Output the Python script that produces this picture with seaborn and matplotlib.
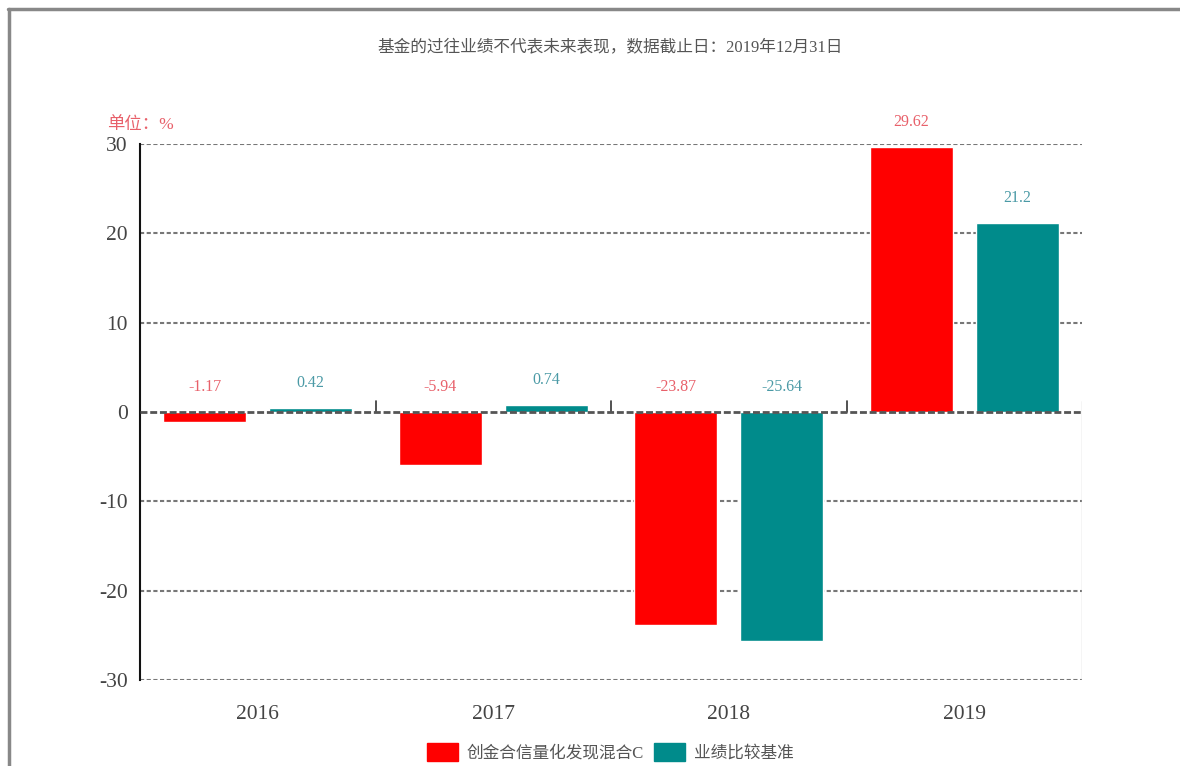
import pandas as pd
import numpy as np
import seaborn as sns
from matplotlib import pyplot as plt
from matplotlib.lines import Line2D
from matplotlib.patches import Patch

years = ["2016", "2017", "2018", "2019"]
fund_name = "创金合信量化发现混合C"
bench_name = "业绩比较基准"
fund_values = [-1.17, -5.94, -23.87, 29.62]
bench_values = [0.42, 0.74, -25.64, 21.2]
y_ticks = [-30, -20, -10, 0, 10, 20, 30]

title_text = "基金的过往业绩不代表未来表现，数据截止日：2019年12月31日"
unit_text = "单位：%"

red = "#ff0000"
teal = "#008b8b"
red_label = "#e8606a"
teal_label = "#4b9aa6"

df = pd.DataFrame({
    "year": years * 2,
    "value": fund_values + bench_values,
    "series": [fund_name] * len(years) + [bench_name] * len(years),
})

sns.set_style("white")
plt.rcParams['font.family'] = ['Liberation Serif', 'Noto Sans CJK SC', 'DejaVu Sans']
plt.rcParams['axes.unicode_minus'] = False

fig = plt.figure(figsize=(11.8, 7.66), dpi=100)
ax = fig.add_axes([140 / 1180, 1 - 680 / 766, (1082 - 140) / 1180, (680 - 144) / 766])

sns.barplot(data=df, x="year", y="value", hue="series",
            palette=[red, teal], width=0.9, gap=0.22, saturation=1,
            order=years, hue_order=[fund_name, bench_name], ax=ax)

ax.set_ylim(-30, 30)
ax.set_xlim(-0.5, len(years) - 0.5)
ax.set_yticks(y_ticks)
ax.set_xlabel("")
ax.set_ylabel("")
ax.get_legend().remove()

# grid lines
for t in y_ticks:
    if t == 0:
        continue
    ax.axhline(t, color="#777777", lw=1.5, ls=(0, (2, 1.2)), zorder=0)
ax.axhline(0, color="#555555", lw=2.0, ls=(0, (2.5, 1)), zorder=3)
for b in np.arange(0.5, len(years) - 0.5, 1.0):
    ax.axvline(b, ymin=0.5, ymax=0.52, color="#333333", lw=1.2)
ax.axvline(len(years) - 0.5, ymin=0.0, ymax=0.52, color="#cccccc", lw=1.0)

for side in ["top", "right", "bottom"]:
    ax.spines[side].set_visible(False)
ax.spines["left"].set_color("#111111")
ax.spines["left"].set_linewidth(1.5)

ax.tick_params(axis="y", length=0, labelsize=15.5, labelcolor="#444444", pad=9)
ax.tick_params(axis="x", length=0, labelsize=15.5, labelcolor="#444444", pad=18)

# value labels
for container, vals, col in zip(ax.containers, [fund_values, bench_values], [red_label, teal_label]):
    for bar, v in zip(container, vals):
        xc = bar.get_x() + bar.get_width() / 2
        ax.annotate(f"{v:g}", (xc, max(v, 0)), xytext=(0, 18), textcoords="offset points",
                    ha="center", va="center", fontsize=11.5, color=col)

fig.text(610 / 1180, 1 - 48 / 766, title_text, ha="center", va="center",
         fontsize=12, color="#555555")
fig.text(107 / 1180, 1 - 125 / 766, unit_text, ha="left", va="center",
         fontsize=12.5, color="#e8606a")

handles = [Patch(facecolor=red, edgecolor=red), Patch(facecolor=teal, edgecolor=teal)]
fig.legend(handles, [fund_name, bench_name], loc="center", bbox_to_anchor=(610 / 1180, 1 - 752 / 766),
           ncol=2, frameon=False, fontsize=12, handlelength=1.9, handleheight=1.3,
           columnspacing=0.6, handletextpad=0.5, labelcolor="#555555")

# outer frame
fig.add_artist(Line2D([8 / 1180, 1], [1 - 9 / 766, 1 - 9 / 766], color="#888888", lw=2.5,
                      transform=fig.transFigure))
fig.add_artist(Line2D([9 / 1180, 9 / 1180], [0, 1 - 9 / 766], color="#888888", lw=2.5,
                      transform=fig.transFigure))

fig.savefig("out.png", dpi=100)
